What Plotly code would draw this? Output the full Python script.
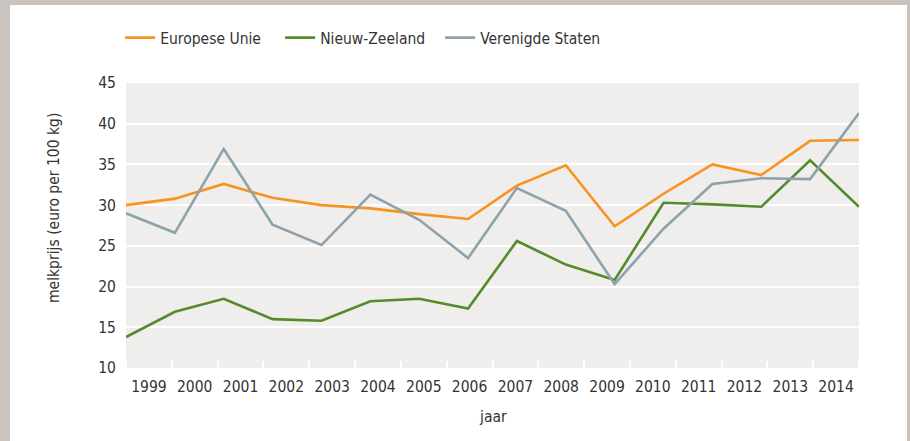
import plotly.graph_objects as go

years = list(range(1999, 2015))
eu = [30.0, 30.8, 32.6, 30.9, 30.0, 29.6, 28.9, 28.3, 32.4, 34.9, 27.4, 31.4, 35.0, 33.7, 37.9, 38.0]
nz = [13.8, 16.9, 18.5, 16.0, 15.8, 18.2, 18.5, 17.3, 25.6, 22.7, 20.8, 30.3, 30.1, 29.8, 35.5, 29.8]
us = [29.0, 26.6, 36.9, 27.6, 25.1, 31.3, 28.2, 23.5, 32.1, 29.3, 20.3, 27.1, 32.6, 33.3, 33.2, 41.3]
series_names = ["Europese Unie", "Nieuw-Zeeland", "Verenigde Staten"]
colors = ["#F7931E", "#558B2A", "#8EA2AD"]
tick_labels = [str(y) for y in years]

FONT = "DejaVu Sans Condensed, Liberation Sans Narrow, sans-serif"
FS = 15.5
TXT = "#333333"

W, H = 910, 441
L, R, T, B = 126, 51, 83, 73

fig = go.Figure()
for name, vals, c in zip(series_names, [eu, nz, us], colors):
    fig.add_trace(go.Scatter(x=years, y=vals, mode="lines", name=name,
                             line=dict(color=c, width=2.6)))

n = len(years)
span = years[-1] - years[0]
slot = span / n
label_pos = [years[0] + (k + 0.5) * slot for k in range(n)]

pw, ph = W - L - R, H - T - B
def px_x(v):
    return (v - L) / pw
def px_y(v):
    return 1 - (v - T) / ph

fig.update_layout(
    width=W, height=H,
    margin=dict(l=L, r=R, t=T, b=B, autoexpand=False),
    paper_bgcolor="white",
    plot_bgcolor="#EFEEEC",
    font=dict(family=FONT, size=FS, color=TXT),
    showlegend=True,
    legend=dict(orientation="h", x=-0.008, xanchor="left", y=px_y(38), yanchor="middle",
                font=dict(family=FONT, size=FS, color=TXT), bgcolor="rgba(0,0,0,0)",
                entrywidth=115, entrywidthmode="pixels", tracegroupgap=0),
    xaxis=dict(range=[years[0], years[-1]], tickmode="array", tickvals=label_pos,
               ticktext=tick_labels, ticks="", showgrid=False, zeroline=False,
               showline=False, ticklabelstandoff=7,
               minor=dict(ticks="inside", tick0=years[0], dtick=slot, ticklen=7,
                          tickwidth=1.5, tickcolor="white", showgrid=False),
               tickfont=dict(family=FONT, size=FS, color=TXT)),
    yaxis=dict(range=[10, 45], tick0=10, dtick=5, showgrid=True, gridcolor="white",
               gridwidth=1.5, zeroline=False, showline=False, ticks="",
               ticklabelstandoff=9, tickfont=dict(family=FONT, size=FS, color=TXT)),
)

# axis titles
fig.add_annotation(text="jaar", xref="paper", yref="paper", x=0.5, y=px_y(417),
                   xanchor="center", yanchor="middle", showarrow=False,
                   font=dict(family=FONT, size=FS, color=TXT))
fig.add_annotation(text="melkprijs (euro per 100 kg)", xref="paper", yref="paper",
                   x=px_x(54), y=px_y(208),
                   xanchor="center", yanchor="middle", textangle=-90, showarrow=False,
                   font=dict(family=FONT, size=FS, color=TXT))

# outer grey frame
frame = "#CBC3BE"
for x0, y0, x1, y1 in [(0, 0, 10, H), (0, 0, W, 5), (907, 0, W, H)]:
    fig.add_shape(type="rect", xref="paper", yref="paper",
                  x0=px_x(x0), x1=px_x(x1), y0=px_y(y1), y1=px_y(y0),
                  fillcolor=frame, line=dict(width=0), layer="above")

fig.write_html("out.html", config={"displayModeBar": False},
               post_script="document.body.style.margin='0';")
